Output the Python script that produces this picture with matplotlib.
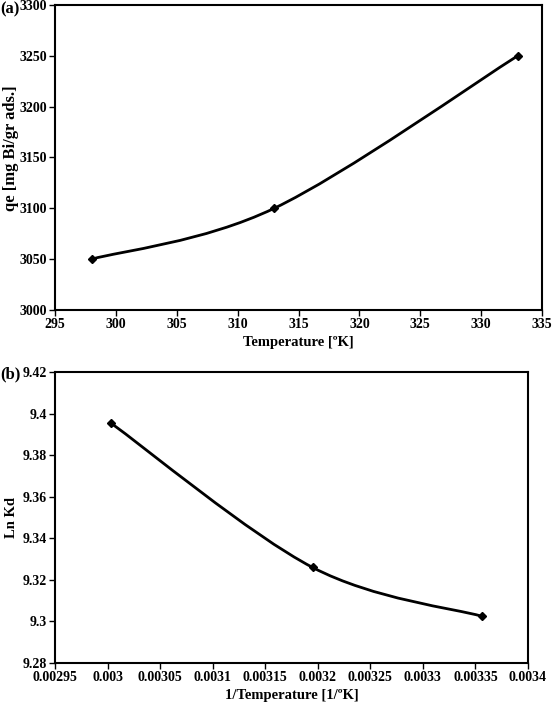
import numpy as np
import matplotlib
matplotlib.use('Agg')
import matplotlib.pyplot as plt
from matplotlib.path import Path
from matplotlib.patches import PathPatch

plt.rcParams['font.family'] = ['Liberation Serif', 'DejaVu Serif']
plt.rcParams['font.weight'] = 'bold'

# panel (a): adsorption capacity vs temperature
temp_a = [298, 313, 333]
qe_a = [3050, 3100, 3250]

# panel (b): ln Kd vs 1/T
inv_t_b = [0.003003, 0.003195, 0.003356]
lnkd_b = [9.3955, 9.326, 9.3025]


def smooth_path(xs, ys):
    # excel-like smoothed line, cubic bezier through the points
    p = np.column_stack([xs, ys]).astype(float)
    n = len(p)
    verts = [p[0]]
    codes = [Path.MOVETO]
    for i in range(n - 1):
        p0 = p[i - 1] if i > 0 else p[i]
        p3 = p[i + 2] if i + 2 < n else p[i + 1]
        c1 = p[i] + (p[i + 1] - p0) / 6.0
        c2 = p[i + 1] - (p3 - p[i]) / 6.0
        verts += [c1, c2, p[i + 1]]
        codes += [Path.CURVE4] * 3
    return Path(verts, codes)


def draw(ax, xs, ys):
    ax.add_patch(PathPatch(smooth_path(xs, ys), fill=False, lw=2.0,
                           edgecolor='black', zorder=2))
    ax.plot(xs, ys, ls='none', marker='D', ms=4.5, color='black', zorder=3)


def style(ax):
    for s in ax.spines.values():
        s.set_linewidth(1.5)
    ax.tick_params(direction='out', length=4, width=1, pad=2, labelsize=10)
    for t in ax.get_xticklabels() + ax.get_yticklabels():
        t.set_fontweight('bold')


W, H = 553, 704
fig = plt.figure(figsize=(W / 100, H / 100), dpi=100)

ax1 = fig.add_axes([55 / W, 1 - 310 / H, (542 - 55) / W, (310 - 5) / H])
draw(ax1, temp_a, qe_a)
ax1.set_xlim(295, 335)
ax1.set_ylim(3000, 3300)
ax1.set_xticks(np.arange(295, 336, 5))
ax1.set_yticks(np.arange(3000, 3301, 50))
style(ax1)
ax1.set_xlabel('Temperature [ºK]', fontsize=10.5, fontweight='bold', labelpad=3)
ax1.set_ylabel('qe [mg Bi/gr ads.]', fontsize=12, fontweight='bold')
ax1.yaxis.set_label_coords((19 - 55) / (542 - 55), 0.53)
fig.text(0, 1 - 1 / H, '(a)', fontsize=12, fontweight='bold', va='top', ha='left')

ax2 = fig.add_axes([55 / W, 1 - 663 / H, (528 - 55) / W, (663 - 372) / H])
draw(ax2, inv_t_b, lnkd_b)
ax2.set_xlim(0.00295, 0.0034)
ax2.set_ylim(9.28, 9.42)
xt = [0.00295, 0.003, 0.00305, 0.0031, 0.00315, 0.0032, 0.00325, 0.0033, 0.00335, 0.0034]
ax2.set_xticks(xt)
ax2.set_xticklabels(['0.00295', '0.003', '0.00305', '0.0031', '0.00315', '0.0032',
                     '0.00325', '0.0033', '0.00335', '0.0034'])
yt = [9.28, 9.3, 9.32, 9.34, 9.36, 9.38, 9.4, 9.42]
ax2.set_yticks(yt)
ax2.set_yticklabels(['9.28', '9.3', '9.32', '9.34', '9.36', '9.38', '9.4', '9.42'])
style(ax2)
ax2.set_xlabel('1/Temperature [1/ºK]', fontsize=10.5, fontweight='bold', labelpad=3)
ax2.set_ylabel('Ln Kd', fontsize=10.5, fontweight='bold')
ax2.yaxis.set_label_coords((18 - 55) / (528 - 55), 0.5)
fig.text(0, 1 - 366 / H, '(b)', fontsize=12, fontweight='bold', va='top', ha='left')

fig.savefig('out.png', dpi=100)
